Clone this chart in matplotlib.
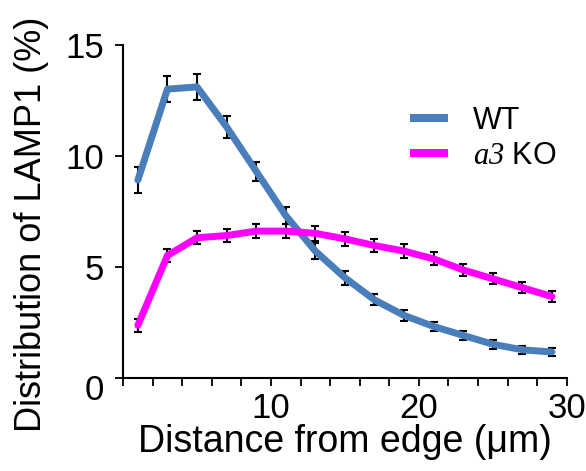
import numpy as np
import matplotlib
matplotlib.use("Agg")
import matplotlib.pyplot as plt
from matplotlib import transforms
from matplotlib.ticker import MultipleLocator, FixedLocator, FuncFormatter

plt.rcParams['font.family'] = ['Liberation Sans', 'DejaVu Sans']
plt.rcParams['mathtext.fontset'] = 'custom'
plt.rcParams['mathtext.it'] = 'Liberation Serif:italic'
plt.rcParams['mathtext.rm'] = 'Liberation Serif:italic'

# distance bins (um) and LAMP1 distribution (%)
distance = [1, 3, 5, 7, 9, 11, 13, 15, 17, 19, 21, 23, 25, 27, 29]
wt_mean = [8.9, 13.0, 13.1, 11.3, 9.3, 7.3, 5.7, 4.5, 3.5, 2.8, 2.3, 1.9, 1.5, 1.25, 1.15]
wt_err = [0.6, 0.6, 0.6, 0.5, 0.43, 0.4, 0.38, 0.32, 0.25, 0.25, 0.2, 0.2, 0.2, 0.18, 0.18]
ko_mean = [2.35, 5.5, 6.3, 6.4, 6.6, 6.6, 6.5, 6.25, 5.95, 5.7, 5.35, 4.85, 4.45, 4.05, 3.65]
ko_err = [0.3, 0.28, 0.3, 0.3, 0.3, 0.3, 0.34, 0.3, 0.3, 0.32, 0.3, 0.28, 0.25, 0.25, 0.25]

fig = plt.figure(figsize=(5.86, 4.71), dpi=100)
ax = fig.add_axes([0.21, 0.1985, 0.757, 0.7065])

for mean, err, color, label in [(wt_mean, wt_err, '#4a7ebb', 'WT'),
                                (ko_mean, ko_err, '#ff00ff', r'$a3$ KO')]:
    ax.errorbar(distance, mean, yerr=err, fmt='none', ecolor='black',
                elinewidth=1.5, capsize=3, capthick=1.5, zorder=2)
    ax.plot(distance, mean, color=color, lw=5, solid_joinstyle='round',
            solid_capstyle='round', label=label, zorder=3)

ax.set_xlim(0, 30)
ax.set_ylim(0, 15)
ax.spines['top'].set_visible(False)
ax.spines['right'].set_visible(False)
for s in ['left', 'bottom']:
    ax.spines[s].set_linewidth(1.5)

ax.yaxis.set_major_locator(MultipleLocator(5))
# the origin label is drawn separately, a bit below the axis
ax.yaxis.set_major_formatter(FuncFormatter(lambda v, p: '' if v == 0 else '%d' % v))
ax.xaxis.set_major_locator(FixedLocator([10, 20, 30]))
ax.xaxis.set_minor_locator(MultipleLocator(2))
ax.tick_params(which='both', direction='out', length=5.5, width=1.3, labelsize=25)
ax.tick_params(axis='y', pad=8)
ax.tick_params(axis='x', pad=5)
zero_tr = transforms.offset_copy(ax.get_yaxis_transform(), fig=fig, x=-13.5, y=-9.5, units='points')
ax.text(0, 0, '0', transform=zero_tr, ha='right', va='center', fontsize=25)

ax.set_xlabel('Distance from edge (\u03bcm)', fontsize=27, labelpad=-1)
ax.set_ylabel('Distribution of LAMP1 (%)', fontsize=26)
ax.yaxis.set_label_coords(-0.167, 0.461)

leg = ax.legend(loc='upper left', bbox_to_anchor=(0.647, 0.816), frameon=False,
                fontsize=22, borderpad=0, borderaxespad=0, handlelength=1.24,
                handletextpad=0.82, labelspacing=0.15)
for h in leg.get_lines():
    h.set_linewidth(5.8)
    h.set_solid_capstyle('butt')

fig.savefig('out.png', dpi=100)
